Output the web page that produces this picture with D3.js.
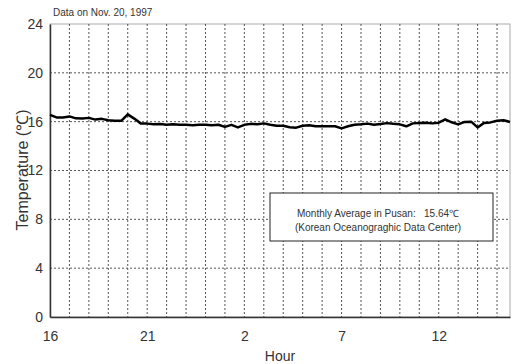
<!DOCTYPE html>
<html>
<head>
<meta charset="utf-8">
<script src="https://cdn.jsdelivr.net/npm/d3@7"></script>
<style>
  body { margin: 0; background: #fff; }
  text { font-family: "Liberation Sans", Arial, sans-serif; fill: #333; }
</style>
</head>
<body>
<div class="chart"></div>
<script>
// -DATA-
// hours shown on the x axis (start at 16h, every 5 hours)
const hourLabels = ["16", "21", "2", "7", "12"];
const hourLabelPos = [0, 5, 10, 15, 20];

// water temperature, one reading every 20 minutes
const tempValues = [
  16.56, 16.35, 16.35, 16.43, 16.27, 16.25, 16.31, 16.17, 16.23, 16.11,
  16.07, 16.07, 16.60, 16.25, 15.86, 15.84, 15.78, 15.80, 15.74, 15.78,
  15.74, 15.75, 15.71, 15.74, 15.74, 15.70, 15.75, 15.57, 15.74, 15.53,
  15.74, 15.82, 15.78, 15.86, 15.74, 15.66, 15.66, 15.55, 15.51, 15.66,
  15.70, 15.62, 15.63, 15.62, 15.62, 15.45, 15.62, 15.74, 15.78, 15.84,
  15.74, 15.80, 15.88, 15.82, 15.78, 15.62, 15.86, 15.90, 15.92, 15.86,
  15.92, 16.19, 15.95, 15.78, 15.98, 16.00, 15.53, 15.90, 15.94, 16.07,
  16.11, 15.98
];
const stepHours = 1 / 3;

const yTicks = [0, 4, 8, 12, 16, 20, 24];

// -SIZES-
const width = 513, height = 364;
const margin = { top: 24, right: 3, bottom: 47, left: 50 };
const plotW = width - margin.left - margin.right;
const plotH = height - margin.top - margin.bottom;

const svg = d3.select(".chart")
  .append("svg")
  .attr("width", width)
  .attr("height", height);

const g = svg.append("g")
  .attr("transform", "translate(" + margin.left + "," + margin.top + ")");

// scales
const x = d3.scaleLinear()
  .domain([0, (tempValues.length - 1) * stepHours])
  .range([0, plotW]);

const y = d3.scaleLinear()
  .domain([0, 24])
  .range([plotH, 0]);

// frame (top and right border light gray)
g.append("rect")
  .attr("x", 0).attr("y", 0)
  .attr("width", plotW).attr("height", plotH)
  .attr("fill", "none")
  .attr("stroke", "#aaa");

// vertical dotted gridlines every hour
const hourGrid = d3.range(1, Math.floor(x.domain()[1]) + 1);
g.selectAll(".vgrid")
  .data(hourGrid)
  .enter()
  .append("line")
  .attr("class", "vgrid")
  .attr("x1", d => x(d)).attr("x2", d => x(d))
  .attr("y1", 0).attr("y2", plotH)
  .attr("stroke", "#555")
  .attr("stroke-width", 1)
  .attr("stroke-dasharray", "2,2");

// horizontal dotted gridlines
g.selectAll(".hgrid")
  .data(yTicks.filter(d => d > 0 && d < 24))
  .enter()
  .append("line")
  .attr("class", "hgrid")
  .attr("x1", 0).attr("x2", plotW)
  .attr("y1", d => y(d)).attr("y2", d => y(d))
  .attr("stroke", "#555")
  .attr("stroke-width", 1)
  .attr("stroke-dasharray", "2,2");

// axes
const yAxis = d3.axisLeft(y).tickValues(yTicks).tickSize(0).tickPadding(7);
const yG = g.append("g").call(yAxis);
yG.select(".domain").attr("stroke", "#333").attr("stroke-width", 1.5);
yG.selectAll("text").attr("font-size", "14px").attr("fill", "#333");

const xAxis = d3.axisBottom(x)
  .tickValues(hourLabelPos)
  .tickFormat((d, i) => hourLabels[i])
  .tickSize(0).tickPadding(14);
const xG = g.append("g")
  .attr("transform", "translate(0," + plotH + ")")
  .call(xAxis);
xG.select(".domain").attr("stroke", "#333").attr("stroke-width", 1.5);
xG.selectAll("text").attr("font-size", "14px").attr("fill", "#333");

// temperature line
const line = d3.line()
  .x((d, i) => x(i * stepHours))
  .y(d => y(d));

g.append("path")
  .datum(tempValues)
  .attr("fill", "none")
  .attr("stroke", "#000")
  .attr("stroke-width", 2.5)
  .attr("stroke-linejoin", "round")
  .attr("d", line);

// note box
const box = g.append("g")
  .attr("transform", "translate(" + (270 - margin.left) + "," + (193 - margin.top) + ")");
box.append("rect")
  .attr("width", 223).attr("height", 48)
  .attr("fill", "#fff")
  .attr("stroke", "#222")
  .attr("stroke-width", 1);
box.append("text")
  .attr("x", 108).attr("y", 24)
  .attr("text-anchor", "middle")
  .attr("font-size", "10px")
  .attr("fill", "#222")
  .text("Monthly Average in Pusan:\u00a0\u00a0 15.64\u2103");
box.append("text")
  .attr("x", 108).attr("y", 38)
  .attr("text-anchor", "middle")
  .attr("font-size", "10px")
  .attr("fill", "#222")
  .text("(Korean Oceanograghic Data Center)");

// - TITLES -
svg.append("text")
  .attr("x", 53).attr("y", 16)
  .attr("font-size", "10px")
  .attr("fill", "#222")
  .text("Data on Nov. 20, 1997");

svg.append("text")
  .attr("x", 280).attr("y", 361)
  .attr("text-anchor", "middle")
  .attr("font-size", "14px")
  .text("Hour");

svg.append("text")
  .attr("transform", "translate(28,170) rotate(-90)")
  .attr("text-anchor", "middle")
  .attr("font-size", "16px")
  .text("Temperature (\u2103)");
</script>
</body>
</html>
